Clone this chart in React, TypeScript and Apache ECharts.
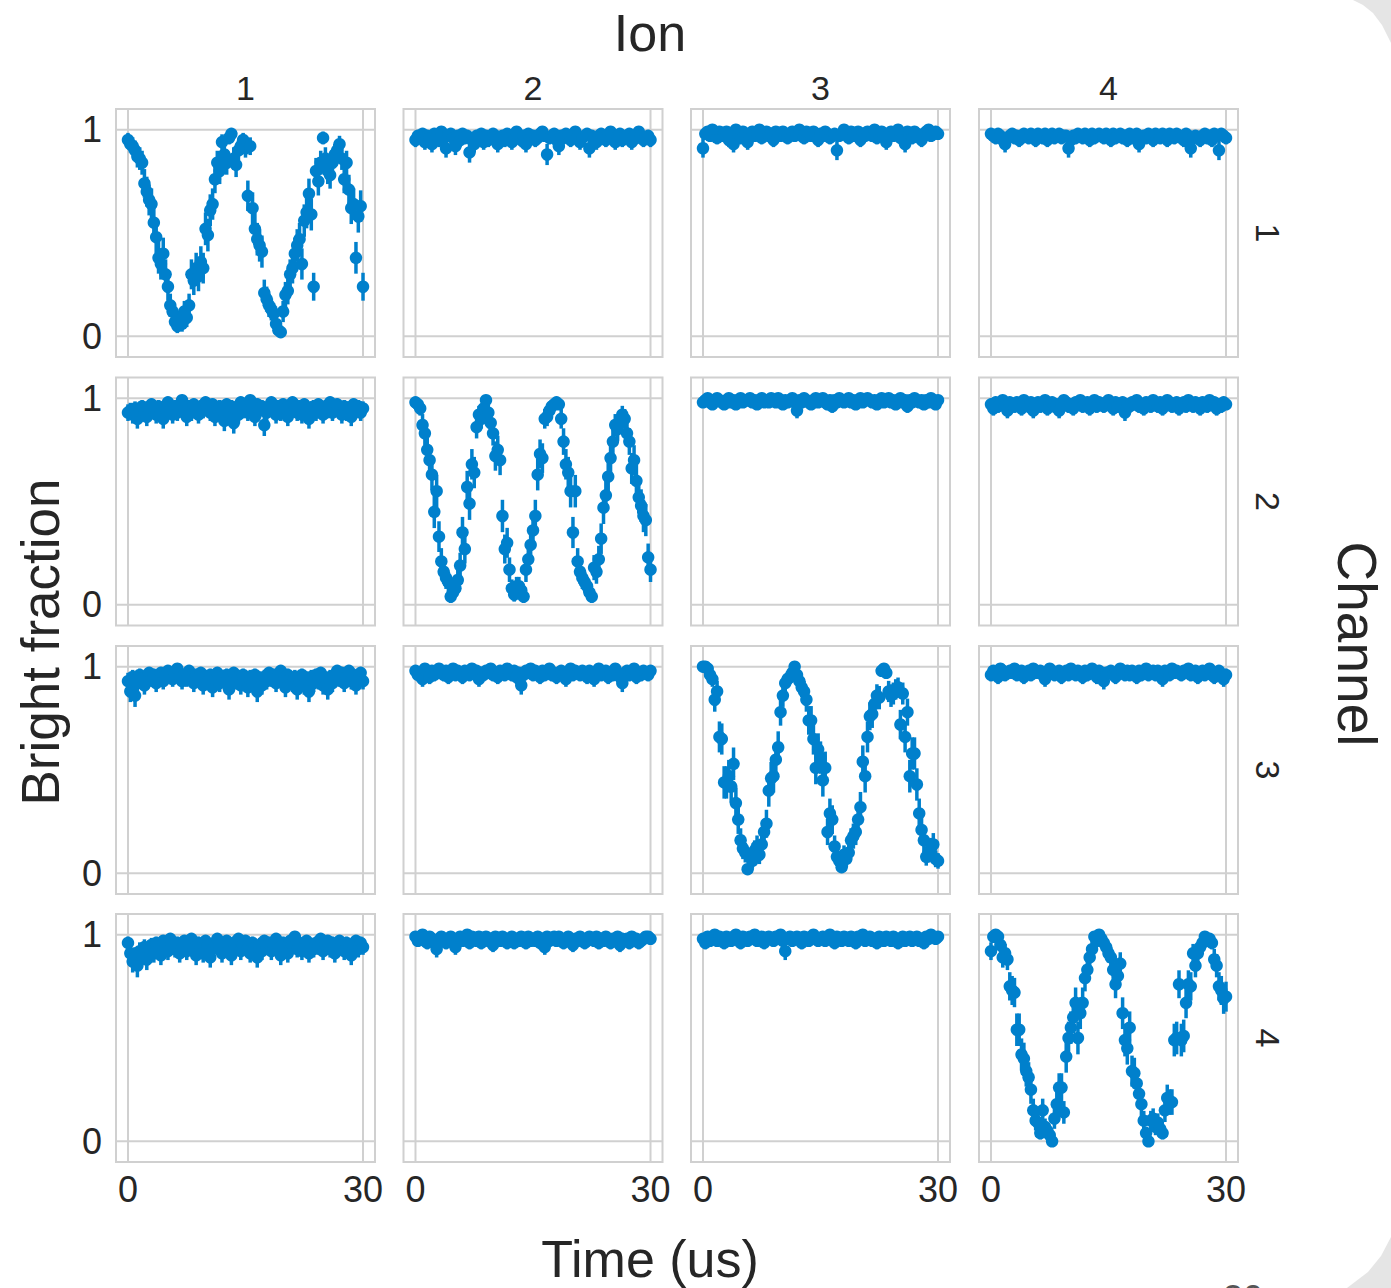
import { useEffect, useRef } from "react";
import * as echarts from "echarts";

// ---------------- data ----------------
const TIME_STEP_US = 0.3; // samples at 0, 0.3, ..., 30 us
const ION_LABELS = ["1", "2", "3", "4"];
const CHANNEL_LABELS = ["1", "2", "3", "4"];
const X_TICKS = [0, 30];
const Y_TICKS = [0, 1];
const SHOTS = 40; // shots per point, used for binomial error bars

// bright fraction in percent, one array per (channel, ion) panel
const ch1Ion1 = [
  95, 93, 92, 90, 87, 86, 84, 74, 70, 66,
  64, 55, 48, 38, 35, 40, 30, 24, 15, 12,
  7, 5, 8, 6, 12, 9, 15, 30, 27, 33,
  29, 36, 33, 52, 49, 61, 64, 76, 84, 80,
  94, 88, 84, 96, 98, 86, 83, 90, 92, 95,
  91, 68, 92, 62, 52, 47, 44, 41, 21, 18,
  15, 13, 11, 6, 3, 2, 12, 20, 22, 30,
  33, 40, 44, 47, 35, 56, 60, 69, 59, 24,
  80, 75, 84, 96, 86, 80, 78, 84, 88, 90,
  93, 86, 76, 84, 71, 62, 64, 38, 58, 63,
  24,
];
const ch1Ion2 = [
  95, 97, 96, 98, 94, 97, 96, 93, 98, 97,
  95, 99, 96, 91, 97, 98, 96, 92, 97, 95,
  98, 96, 97, 89, 95, 93, 97, 96, 98, 94,
  97, 95, 96, 98, 97, 93, 96, 97, 95, 98,
  96, 94, 97, 99, 96, 95, 97, 93, 98, 96,
  97, 95, 96, 98, 99, 97, 88, 96, 97, 98,
  95, 92, 97, 96, 98, 97, 95, 96, 99, 97,
  94, 96, 97, 98, 91, 97, 96, 94, 97, 98,
  96, 95, 97, 99, 96, 94, 97, 98, 95, 96,
  97, 98, 94, 97, 96, 99, 97, 95, 96, 97,
  95,
];
const ch1Ion3 = [
  91, 98, 99, 97, 100, 98, 96, 99, 97, 98,
  99, 95, 98, 93, 100, 98, 96, 99, 98, 94,
  98, 99, 97, 98, 100, 96, 98, 99, 97, 98,
  95, 99, 98, 97, 99, 98, 96, 98, 99, 97,
  98, 100, 97, 96, 99, 98, 97, 99, 98, 95,
  98, 97, 99, 98, 96, 97, 98, 90, 97, 98,
  100, 98, 96, 99, 97, 98, 99, 95, 98, 97,
  99, 98, 97, 100, 96, 98, 99, 97, 94, 98,
  99, 97, 98, 100, 96, 98, 93, 99, 98, 96,
  99, 98, 97, 95, 98, 99, 100, 97, 98, 99,
  98,
];
const ch1Ion4 = [
  98, 97, 96, 98, 97, 95, 93, 96, 97, 98,
  96, 97, 95, 96, 98, 97, 96, 98, 97, 95,
  98, 97, 96, 98, 95, 97, 98, 96, 97, 98,
  96, 97, 97, 91, 95, 97, 96, 98, 97, 96,
  98, 97, 95, 98, 96, 97, 98, 97, 96, 98,
  97, 95, 98, 96, 97, 98, 96, 97, 95, 98,
  96, 97, 98, 93, 96, 97, 96, 98, 97, 95,
  98, 97, 96, 98, 97, 95, 98, 97, 96, 98,
  97, 96, 95, 98, 97, 91, 96, 97, 96, 95,
  97, 98, 96, 97, 95, 98, 97, 90, 98, 97,
  96,
];
const ch2Ion1 = [
  93, 94, 92, 95, 90, 94, 96, 93, 91, 95,
  97, 94, 92, 96, 93, 90, 95, 98, 94, 92,
  96, 93, 95, 99, 94, 91, 96, 93, 97, 95,
  92, 96, 94, 98, 95, 93, 97, 91, 95, 96,
  94, 89, 97, 93, 96, 88, 95, 92, 98, 94,
  96, 93, 99, 95, 91, 97, 94, 96, 87, 93,
  95, 98, 94, 92, 96, 93, 97, 95, 91, 94,
  98, 95, 93, 96, 92, 97, 94, 90, 95, 96,
  93, 97, 95, 92, 96, 94, 98, 93, 95, 97,
  94, 92, 96, 93, 95, 91, 97, 94, 96, 93,
  95,
];
const ch2Ion2 = [
  98, 97, 95, 87, 83, 75, 70, 63, 45, 55,
  33, 21, 16, 13, 11, 4, 6, 8, 12, 19,
  35, 27, 57, 49, 68, 64, 86, 92, 90, 95,
  99, 93, 88, 83, 72, 75, 70, 43, 27, 30,
  17, 8, 5, 9, 9, 7, 4, 17, 22, 29,
  36, 43, 63, 73, 71, 90, 91, 94, 96, 97,
  98, 97, 90, 79, 68, 64, 55, 35, 55, 21,
  16, 13, 11, 9, 6, 4, 18, 16, 22, 32,
  47, 53, 62, 71, 79, 87, 85, 89, 92, 90,
  83, 79, 66, 70, 60, 52, 48, 43, 41, 23,
  17,
];
const ch2Ion3 = [
  98, 99, 100, 98, 97, 99, 100, 99, 98, 97,
  99, 100, 98, 99, 97, 99, 100, 98, 99, 99,
  100, 98, 99, 97, 99, 100, 98, 99, 98, 100,
  99, 98, 100, 99, 97, 99, 98, 99, 100, 98,
  94, 99, 98, 100, 99, 98, 97, 99, 100, 98,
  99, 100, 98, 97, 99, 96, 99, 98, 100, 99,
  98, 99, 100, 98, 99, 97, 99, 100, 98, 99,
  100, 99, 98, 99, 97, 99, 100, 98, 99, 100,
  98, 99, 97, 99, 100, 98, 99, 96, 99, 98,
  100, 99, 98, 99, 97, 99, 98, 100, 99, 97,
  99,
];
const ch2Ion4 = [
  97, 95, 98, 96, 97, 99, 96, 94, 98, 97,
  96, 98, 97, 95, 99, 97, 96, 98, 94, 97,
  98, 96, 97, 99, 95, 97, 98, 96, 97, 94,
  97, 99, 98, 96, 97, 95, 98, 97, 99, 96,
  97, 98, 95, 97, 99, 96, 98, 97, 96, 98,
  99, 97, 95, 98, 96, 97, 98, 93, 97, 96,
  98, 97, 99, 96, 97, 95, 98, 97, 96, 99,
  97, 96, 98, 95, 97, 99, 98, 96, 97, 98,
  95, 97, 98, 96, 99, 97, 96, 98, 97, 95,
  98, 97, 96, 99, 97, 98, 95, 97, 96, 98,
  97,
];
const ch3Ion1 = [
  93, 88, 95, 86, 92, 96, 94, 91, 95, 97,
  94, 96, 92, 95, 97, 93, 96, 98, 95, 94,
  97, 99, 95, 93, 96, 94, 98, 95, 92, 96,
  94, 97, 91, 95, 93, 96, 90, 94, 97, 92,
  95, 93, 96, 89, 94, 97, 93, 95, 91, 96,
  93, 90, 95, 92, 96, 88, 94, 91, 95, 93,
  97, 94, 96, 92, 95, 98, 93, 90, 96, 94,
  92, 95, 89, 93, 96, 91, 94, 88, 95, 92,
  96, 93, 97, 91, 94, 89, 95, 92, 96, 98,
  94, 97, 92, 95, 98, 93, 96, 91, 94, 97,
  93,
];
const ch3Ion2 = [
  98, 96, 97, 94, 99, 97, 95, 98, 96, 97,
  99, 97, 96, 98, 95, 97, 99, 96, 98, 97,
  95, 98, 97, 96, 99, 97, 98, 94, 97, 96,
  98, 97, 99, 96, 97, 95, 98, 97, 96, 99,
  97, 96, 98, 95, 97, 91, 96, 98, 97, 99,
  96, 98, 97, 95, 98, 96, 97, 99, 96, 97,
  95, 97, 98, 96, 94, 97, 99, 96, 98, 97,
  96, 98, 97, 95, 98, 96, 94, 97, 99, 96,
  97, 98, 95, 97, 96, 99, 97, 95, 92, 97,
  98, 96, 97, 99, 95, 97, 96, 98, 97, 96,
  98,
];
const ch3Ion3 = [
  100, 100, 99, 96, 94, 84, 88, 66, 65, 44,
  44, 47, 42, 53, 34, 26, 16, 12, 10, 2,
  8, 6, 11, 13, 9, 14, 20, 24, 40, 46,
  47, 55, 61, 78, 86, 92, 94, 95, 97, 100,
  96, 93, 90, 88, 84, 74, 74, 65, 51, 60,
  56, 45, 51, 20, 29, 26, 13, 8, 6, 3,
  9, 7, 10, 16, 18, 20, 26, 32, 54, 47,
  66, 76, 77, 82, 86, 85, 98, 99, 97, 88,
  86, 87, 89, 90, 72, 87, 66, 78, 47, 58,
  58, 43, 29, 21, 16, 8, 10, 12, 14, 7,
  6,
];
const ch3Ion4 = [
  96, 98, 97, 95, 99, 98, 96, 97, 98, 97,
  99, 96, 97, 98, 95, 97, 98, 96, 99, 97,
  97, 98, 96, 94, 97, 99, 98, 96, 97, 98,
  95, 97, 98, 96, 99, 97, 96, 98, 97, 95,
  98, 96, 97, 99, 97, 95, 98, 96, 93, 97,
  97, 98, 96, 95, 97, 99, 97, 96, 98, 96,
  98, 97, 95, 98, 96, 97, 99, 96, 97, 98,
  96, 98, 97, 94, 98, 97, 96, 99, 97, 98,
  97, 96, 98, 97, 99, 96, 97, 98, 95, 97,
  98, 96, 97, 99, 96, 95, 97, 98, 96, 94,
  96,
];
const ch4Ion1 = [
  96, 91, 87, 89, 85, 92, 90, 94, 88, 93,
  95, 91, 96, 93, 90, 97, 94, 92, 98, 95,
  93, 96, 91, 94, 97, 92, 95, 98, 93, 90,
  96, 94, 91, 97, 95, 89, 93, 96, 98, 94,
  91, 95, 97, 93, 90, 96, 94, 98, 92, 95,
  97, 93, 91, 96, 94, 89, 95, 92, 97, 94,
  96, 92, 95, 98, 93, 90, 96, 94, 91, 97,
  95, 99, 93, 96, 92, 94, 97, 91, 95, 93,
  96, 94, 98, 92, 95, 97, 93, 96, 91, 94,
  97, 95, 92, 96, 93, 90, 95, 97, 93, 96,
  94,
];
const ch4Ion2 = [
  99, 97, 98, 100, 97, 96, 99, 98, 97, 93,
  98, 99, 97, 96, 98, 99, 97, 94, 98, 99,
  97, 98, 100, 96, 99, 98, 97, 99, 96, 98,
  99, 97, 98, 95, 99, 98, 97, 99, 98, 96,
  98, 99, 96, 98, 97, 99, 98, 96, 99, 97,
  98, 97, 99, 96, 98, 94, 99, 97, 98, 99,
  97, 99, 98, 96, 97, 99, 98, 95, 98, 97,
  99, 98, 96, 97, 99, 98, 97, 99, 96, 98,
  97, 99, 98, 96, 98, 97, 99, 95, 98, 97,
  98, 96, 99, 97, 98, 96, 97, 98, 99, 99,
  98,
];
const ch4Ion3 = [
  98, 96, 99, 97, 98, 100, 97, 99, 98, 96,
  99, 98, 97, 99, 100, 98, 96, 99, 98, 97,
  99, 98, 100, 97, 98, 99, 96, 98, 99, 98,
  97, 99, 98, 100, 97, 92, 98, 99, 97, 98,
  99, 98, 96, 99, 98, 97, 99, 100, 98, 97,
  98, 99, 97, 98, 100, 98, 96, 99, 98, 97,
  99, 98, 97, 99, 98, 96, 99, 98, 100, 97,
  98, 99, 97, 98, 96, 99, 98, 97, 99, 98,
  97, 99, 98, 96, 98, 99, 97, 98, 99, 97,
  98, 99, 97, 98, 96, 99, 98, 100, 99, 98,
  99,
];
const ch4Ion4 = [
  92, 99, 100, 99, 95, 89, 91, 88, 75, 73,
  72, 54, 54, 42, 40, 34, 31, 25, 15, 10,
  9, 4, 15, 7, 5, 3, 0, 11, 18, 26,
  26, 14, 41, 50, 55, 60, 67, 50, 62, 67,
  79, 83, 89, 93, 99, 97, 100, 98, 96, 94,
  91, 89, 83, 76, 80, 86, 62, 49, 45, 55,
  34, 33, 28, 23, 18, 10, 4, 0, 10, 11,
  7, 9, 6, 4, 15, 21, 19, 19, 49, 50,
  76, 49, 51, 67, 76, 75, 91, 85, 91, 94,
  96, 99, 97, 98, 96, 88, 85, 75, 73, 69,
  70,
];

// rows = channel, columns = ion
const PANELS = [
  [ch1Ion1, ch1Ion2, ch1Ion3, ch1Ion4],
  [ch2Ion1, ch2Ion2, ch2Ion3, ch2Ion4],
  [ch3Ion1, ch3Ion2, ch3Ion3, ch3Ion4],
  [ch4Ion1, ch4Ion2, ch4Ion3, ch4Ion4],
];

// ---------------- layout / style ----------------
const COL_LEFT = [116, 403.5, 691, 979];
const ROW_TOP = [109, 377.5, 646, 914];
const PANEL_W = 259;
const PANEL_H = 248;
const X_MIN = -1.53;
const X_MAX = 31.53;
const Y_MIN = -0.1;
const Y_MAX = 1.1;

const BLUE = "#0080cc";
const GRID_COLOR = "#d0d0d0";
const TEXT_COLOR = "#262626";
const FONT = "'Liberation Sans', Arial, Helvetica, sans-serif";

function buildOption() {
  const grids: any[] = [];
  const xAxes: any[] = [];
  const yAxes: any[] = [];
  const series: any[] = [];

  PANELS.forEach((rowArr, r) => {
    rowArr.forEach((vals, c) => {
      const gi = r * 4 + c;
      grids.push({
        left: COL_LEFT[c],
        top: ROW_TOP[r],
        width: PANEL_W,
        height: PANEL_H,
        show: true,
        borderColor: GRID_COLOR,
        borderWidth: 2,
        backgroundColor: "transparent",
        containLabel: false,
        outerBoundsMode: "none",
      });
      xAxes.push({
        gridIndex: gi,
        type: "value",
        min: X_MIN,
        max: X_MAX,
        axisLine: { show: false },
        axisTick: { show: false },
        splitLine: { show: false },
        axisLabel: {
          show: r === 3,
          customValues: X_TICKS,
          fontSize: 36,
          color: TEXT_COLOR,
          fontFamily: FONT,
          margin: 9,
        },
      });
      yAxes.push({
        gridIndex: gi,
        type: "value",
        min: Y_MIN,
        max: Y_MAX,
        axisLine: { show: false },
        axisTick: { show: false },
        splitLine: { show: false },
        axisLabel: {
          show: c === 0,
          customValues: Y_TICKS,
          fontSize: 36,
          color: TEXT_COLOR,
          fontFamily: FONT,
          margin: 14,
        },
      });

      const frac = vals.map((v) => v / 100);
      const points = frac.map((p, i) => [i * TIME_STEP_US, p]);
      const errs = frac.map((p, i) => {
        const e = Math.sqrt((p * (1 - p)) / SHOTS);
        return [i * TIME_STEP_US, p - e, p + e];
      });

      // grid lines at the tick values
      series.push({
        type: "custom",
        xAxisIndex: gi,
        yAxisIndex: gi,
        silent: true,
        z: 1,
        data: [[0, 0]],
        renderItem: (params: any, api: any) => {
          const cs = params.coordSys;
          const children: any[] = [];
          X_TICKS.forEach((v) => {
            const px = api.coord([v, 0])[0];
            children.push({
              type: "line",
              shape: { x1: px, y1: cs.y, x2: px, y2: cs.y + cs.height },
              style: { stroke: GRID_COLOR, lineWidth: 2 },
            });
          });
          Y_TICKS.forEach((v) => {
            const py = api.coord([0, v])[1];
            children.push({
              type: "line",
              shape: { x1: cs.x, y1: py, x2: cs.x + cs.width, y2: py },
              style: { stroke: GRID_COLOR, lineWidth: 2 },
            });
          });
          return { type: "group", children };
        },
      });

      // error bars
      series.push({
        type: "custom",
        xAxisIndex: gi,
        yAxisIndex: gi,
        silent: true,
        z: 2,
        data: errs,
        encode: { x: 0, y: [1, 2] },
        renderItem: (_params: any, api: any) => {
          const p1 = api.coord([api.value(0), api.value(1)]);
          const p2 = api.coord([api.value(0), api.value(2)]);
          return {
            type: "line",
            shape: { x1: p1[0], y1: p1[1], x2: p2[0], y2: p2[1] },
            style: { stroke: BLUE, lineWidth: 3.5 },
          };
        },
      });

      // points
      series.push({
        type: "scatter",
        xAxisIndex: gi,
        yAxisIndex: gi,
        z: 3,
        silent: true,
        data: points,
        symbol: "circle",
        symbolSize: 12.5,
        itemStyle: { color: BLUE, opacity: 1 },
      });
    });
  });

  const textStyle = (text: string, size: number) => ({
    text,
    fill: TEXT_COLOR,
    fontSize: size,
    fontFamily: FONT,
    textAlign: "center",
    textVerticalAlign: "middle",
  });

  const graphic: any[] = [
    { type: "text", x: 650, y: 33, style: textStyle("Ion", 52) },
    { type: "text", x: 650, y: 1259, style: textStyle("Time (us)", 52) },
    {
      type: "text",
      x: 40,
      y: 642,
      rotation: Math.PI / 2,
      style: textStyle("Bright fraction", 53),
    },
    {
      type: "text",
      x: 1357,
      y: 644,
      rotation: -Math.PI / 2,
      style: textStyle("Channel", 55),
    },
    ...ION_LABELS.map((t, c) => ({
      type: "text",
      x: COL_LEFT[c] + PANEL_W / 2,
      y: 88,
      style: textStyle(t, 34),
    })),
    ...CHANNEL_LABELS.map((t, r) => ({
      type: "text",
      x: 1268,
      y: ROW_TOP[r] + PANEL_H / 2,
      rotation: -Math.PI / 2,
      style: textStyle(t, 34),
    })),
    // label peeking in at the bottom edge of the capture
    {
      type: "text",
      x: 1243,
      y: 1280,
      style: {
        text: "30",
        fill: "#555555",
        fontSize: 36,
        fontFamily: FONT,
        textAlign: "center",
        textVerticalAlign: "top",
      },
    },
    // grey page background visible at the corners
    {
      type: "polygon",
      z: 100,
      shape: {
        points: [
          [1353, 0], [1363, 5], [1373, 13], [1382, 25], [1391, 43], [1391, 0],
        ],
      },
      style: { fill: "#e5e5e5" },
    },
    {
      type: "polygon",
      z: 100,
      shape: {
        points: [
          [1391, 1237], [1381, 1256], [1368, 1272], [1347, 1288], [1391, 1288],
        ],
      },
      style: { fill: "#e5e5e5" },
    },
  ];

  return {
    animation: false,
    backgroundColor: "#ffffff",
    textStyle: { fontFamily: FONT },
    grid: grids,
    xAxis: xAxes,
    yAxis: yAxes,
    series,
    graphic,
  };
}

export default function App() {
  const ref = useRef<HTMLDivElement>(null);
  useEffect(() => {
    if (!ref.current) return;
    const chart = echarts.init(ref.current, null, { renderer: "svg" });
    chart.setOption(buildOption() as any);
    return () => chart.dispose();
  }, []);
  return (
    <div
      ref={ref}
      style={{
        position: "fixed",
        left: 0,
        top: 0,
        width: 1391,
        height: 1288,
        background: "#ffffff",
      }}
    />
  );
}
